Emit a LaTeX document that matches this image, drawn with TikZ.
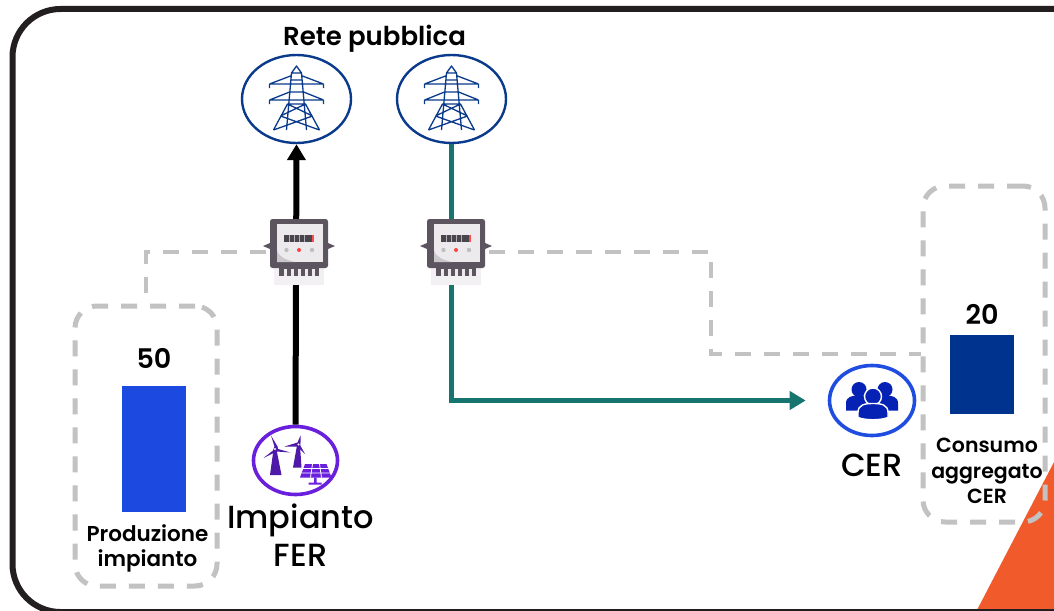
\documentclass[tikz,border=0pt]{standalone}
\usepackage{fontspec}
\setmainfont{Poppins}[BoldFont=Poppins SemiBold]
\newfontfamily\medfont{Poppins Medium}
\usetikzlibrary{arrows.meta,positioning,shapes.geometric}
\definecolor{framecol}{HTML}{231F20}
\definecolor{gridcol}{HTML}{0A3A8C}
\definecolor{feedcol}{HTML}{17756F}
\definecolor{dashcol}{HTML}{C2C2C2}
\definecolor{prodcol}{HTML}{1C49E0}
\definecolor{conscol}{HTML}{00338D}
\definecolor{fercol}{HTML}{6A1FDC}
\definecolor{iconcol}{HTML}{4E1BA8}
\definecolor{cercol}{HTML}{1F4DE0}
\definecolor{peoplecol}{HTML}{0522B4}
\definecolor{wedgecol}{HTML}{F15A2B}
\definecolor{metercol}{HTML}{5C5560}
\definecolor{facecol}{HTML}{ECEAED}
\begin{document}
\begin{tikzpicture}[
  x=1pt,y=-1pt,
  node distance=4pt,
  gridnode/.style={ellipse,draw=gridcol,line width=2.4pt,fill=white,minimum width=109pt,minimum height=88pt,inner sep=0pt},
  fernode/.style={ellipse,draw=fercol,line width=3.6pt,fill=white,minimum width=84pt,minimum height=68pt,inner sep=0pt},
  cernode/.style={ellipse,draw=cercol,line width=3.6pt,fill=white,minimum width=85pt,minimum height=70pt,inner sep=0pt},
  meterbox/.style={minimum width=66pt,minimum height=66pt,inner sep=0pt},
  dashbox/.style={draw=dashcol,line width=5pt,line cap=butt,dash pattern=on 16pt off 13pt,rounded corners=22pt,inner sep=0pt},
  sensor/.style={draw=dashcol,line width=4.5pt,dash pattern=on 16pt off 13pt},
  export/.style={-{Stealth[length=16pt,width=18pt,inset=0pt]},line width=6pt,black},
  feed/.style={-{Stealth[length=16pt,width=18pt,inset=0pt]},line width=5.5pt,feedcol},
  bar/.style={minimum width=64pt,inner sep=0pt},
  ann/.style={font=\fontsize{20.5}{25.7}\selectfont\bfseries,align=center,inner sep=0pt},
  val/.style={font=\fontsize{27}{30}\selectfont\bfseries,inner sep=0pt},
  big/.style={font=\fontsize{32}{38}\selectfont\medfont,align=center,inner sep=0pt},
  mid/.style={font=\fontsize{32}{30}\selectfont\medfont,inner sep=0pt},
  tower/.pic={
    \draw[gridcol,line width=1.3pt,line join=round]
      (-10,31)--(-5,-26)--(0,-33)--(5,-26)--(10,31)
      (-23,31)--(-9,5)--(9,5)--(23,31)
      (-5,-26)--(5,-26)
      (-27,-15)--(-6,-23) (27,-15)--(6,-23) (-27,-15)--(27,-15)
      (-27,1)--(-7,-7) (27,1)--(7,-7) (-27,1)--(27,1)
      (-27,-15)--(-27,-11) (27,-15)--(27,-11) (-27,1)--(-27,5) (27,1)--(27,5)
      (-7,-7)--(7,-7) (-6,-19)--(6,-19)
      (-9,5)--(16,17) (9,5)--(-16,17) (-16,17)--(23,31) (16,17)--(-23,31);
  },
  meter/.pic={
    \fill[facecol!70!white] (-25,14) rectangle (25,33);
    \fill[metercol] (-29,-9)--(-36,-6)--(-29,-3)--cycle (29,-9)--(36,-6)--(29,-3)--cycle;
    \fill[metercol] (-20,14) rectangle (20,24);
    \foreach \k in {-14,-7,0,7,14} \fill[facecol] (\k-1.5,17) rectangle (\k+1.5,24);
    \fill[metercol,rounded corners=2.5pt] (-29,-33) rectangle (29,16);
    \fill[facecol] (-22,-28) rectangle (24,10);
    \fill[facecol!85!black] (-22,-2) .. controls (-20,6) and (-12,8) .. (-4,10) -- (-22,10) -- cycle;
    \fill[metercol!80!black] (-15,-17) rectangle (15,-10);
    \foreach \k in {-10,-5,0,5} \fill[facecol!60!metercol] (\k,-17) rectangle (\k+0.8,-10);
    \fill[red!70!white] (12.5,-17) rectangle (15,-10);
    \fill[red!75!white] (0,-2) circle (2pt);
    \fill[black!25] (-12.5,-2) circle (2.2pt) (13,-2) circle (2.2pt);
  },
  windsolar/.pic={
    \fill[iconcol] (-22,-11)--(-19,-11)--(-14,14.5)--(-25.5,14.5)--cycle;
    \fill[iconcol] (-21,-14)--(-24.5,-25)--(-18,-14)--(-17.5,-11.5)--(-5,-8)--(-19,-9)--(-32,-2.5)--(-22.5,-10)--cycle;
    \fill[white] (-20.5,-11.5) circle (1.2pt);
    \fill[iconcol] (1.5,-15)--(4.5,-15)--(6,7)--(-2.5,7)--cycle;
    \fill[iconcol] (2,-18)--(5,-25)--(5,-18)--(4.8,-15)--(9.5,-6.5)--(3,-13)--(1,-14)--(-11,-14)--cycle;
    \fill[white] (3,-16) circle (1.1pt);
    \fill[fercol] (9.5,3.5)--(31,3.5)--(36,17)--(4.5,17)--cycle;
    \draw[white,line width=0.8pt] (7.5,8)--(33,8) (6,12.5)--(34.5,12.5) (17,3.5)--(15,17) (24,3.5)--(26,17);
    \fill[fercol] (18.5,17) rectangle (21,23) (13,22) rectangle (26,24);
  },
  people/.pic={
    \fill[peoplecol] (-13,-11) circle (7.5pt) (13,-11) circle (7.5pt);
    \fill[peoplecol] (-26,10)--(-26,3) .. controls (-26,-4) and (-20,-5) .. (-13,-5) .. controls (-6,-5) and (6,-5) .. (13,-5) .. controls (20,-5) and (26,-4) .. (26,3) -- (26,10) -- cycle;
    \fill[peoplecol,draw=white,line width=1.4pt] (1,-4) circle (8.5pt);
    \fill[peoplecol,draw=white,line width=1.4pt] (-14,17) -- (-14,12) .. controls (-14,4) and (-7,3) .. (1,3) .. controls (9,3) and (16,4) .. (16,12) -- (16,17) .. controls (8,20) and (-6,20) .. (-14,17) -- cycle;
  }
]
\path[use as bounding box,clip] (0,0) rectangle (1054,610);
\fill[white] (0,0) rectangle (1054,610);
% frame and corner wedge
\fill[wedgecol] (1054,462) -- (1054,610) -- (977,610) -- cycle;
\draw[framecol,line width=6pt,rounded corners=48pt] (12.5,612) rectangle (1120,9);

% grid, plant, community
\node[gridnode] (grida) at (296.5,99) {};
\node[gridnode] (gridb) at (451.5,99) {};
\node[fernode]  (fer)   at (295.5,460.5) {};
\node[cernode]  (cer)   at (872,400.5) {};
\node[meterbox] (metera) at (299,252) {};
\node[meterbox] (meterb) at (456,252) {};

% measured values
\node[dashbox,minimum width=142pt,minimum height=280pt] (boxprod) at (146,446) {};
\node[dashbox,minimum width=122pt,minimum height=336pt] (boxcons) at (984,354) {};
\node[bar,fill=prodcol,minimum height=126pt] (barprod) at (154,449) {};
\node[bar,fill=conscol,minimum height=79pt]  (barcons) at (982,374.5) {};
\node[val,above=17pt of barprod] (valprod) {50};
\node[val,above=10pt of barcons] (valcons) {20};
\node[ann,font=\fontsize{21.5}{25.7}\selectfont\bfseries] (txtprod) at (147.5,548.5) {Produzione\\impianto};
\node[ann] (txtcons) at (987,471) {Consumo\\aggregato\\CER};

% connectors
\draw[sensor] (metera.west) -| (boxprod.north);
\coordinate (bend) at (711,354);
\draw[sensor] (meterb.east) -| (bend) -- (boxcons.west |- bend);
\draw[export] (fer.north) -- (grida.south);
\draw[feed,shorten >=22pt] (gridb.south) |- (cer.west);

% icons
\pic at (grida) {tower};
\pic at (gridb) {tower};
\pic at (metera) {meter};
\pic at (meterb) {meter};
\pic at (fer) {windsolar};
\pic at (cer) {people};

% labels
\node[val,font=\fontsize{26}{30}\selectfont\bfseries] (rete) at (374.5,39) {Rete pubblica};
\node[big] (txtfer) at (300.5,535.5) {Impianto\\FER};
\node[mid] (txtcer) at (872,465) {CER};
\end{tikzpicture}
\end{document}
